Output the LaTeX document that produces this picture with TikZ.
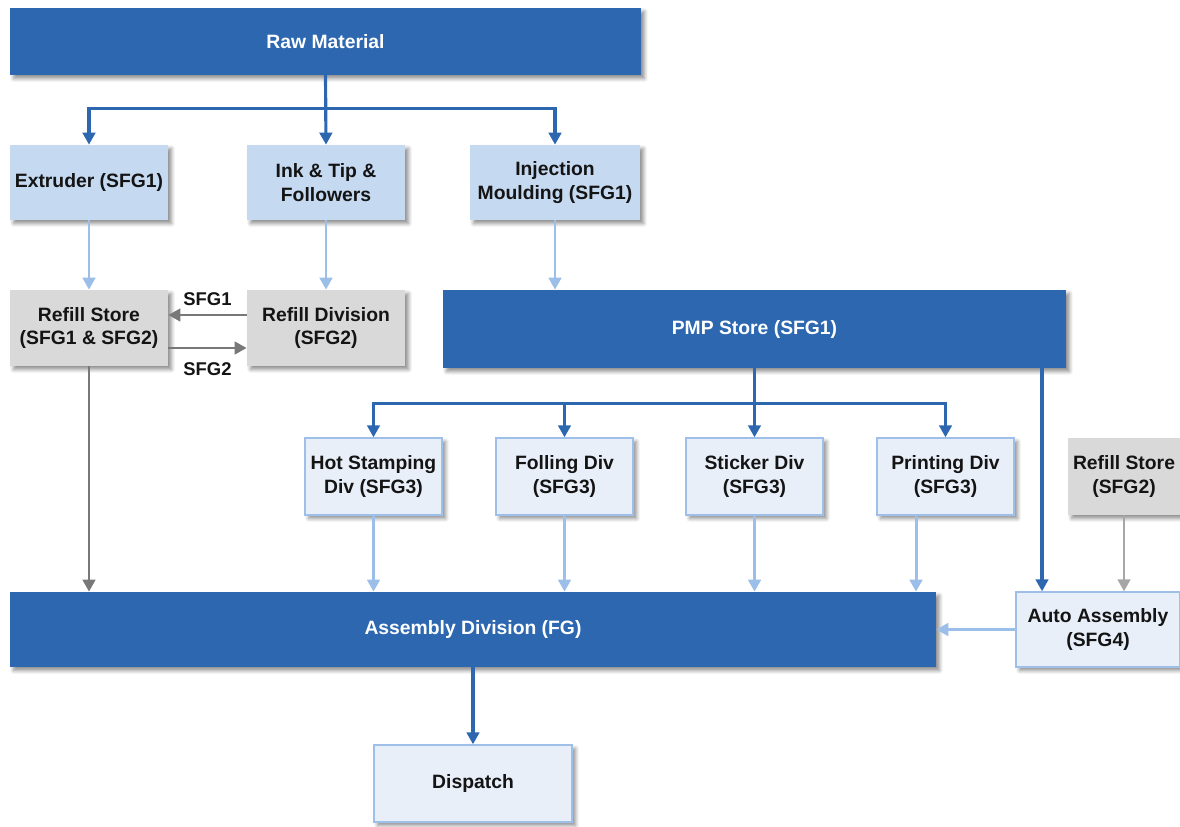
\documentclass[tikz,border=0pt]{standalone}
\usepackage{fontspec}
\setmainfont{Liberation Sans}
\usetikzlibrary{arrows.meta,positioning,shadows.blur}
\definecolor{navy}{RGB}{44,103,176}
\definecolor{sky}{RGB}{197,217,241}
\definecolor{mist}{RGB}{233,239,249}
\definecolor{mistline}{RGB}{157,191,232}
\definecolor{stone}{RGB}{217,217,217}
\definecolor{pale}{RGB}{155,191,232}
\definecolor{slate}{RGB}{120,120,120}
\definecolor{ash}{RGB}{166,166,166}
\definecolor{ink}{RGB}{20,20,20}
\tikzset{
  >={Triangle[length=2.4mm,width=2.5mm]},
  blk/.style={inner sep=2pt,align=center,font=\fontsize{11}{13.6}\selectfont\bfseries,
    blur shadow={shadow xshift=0.7mm,shadow yshift=-0.7mm,shadow blur steps=6,shadow opacity=45}},
  darkbox/.style={blk,fill=navy,text=white},
  skybox/.style={blk,fill=sky,text=ink},
  mistbox/.style={blk,fill=mist,draw=mistline,thick,text=ink},
  greybox/.style={blk,fill=stone,text=ink},
  bus/.style={->,draw=navy,line width=1.8pt},
  feed/.style={->,draw=pale,line width=1.7pt},
  grey flow/.style={->,draw=#1,line width=1.6pt},
  grey flow/.default=slate,
  tag/.style={font=\fontsize{10.5}{12}\selectfont\bfseries,text=ink},
}
\begin{document}
\begin{tikzpicture}[x=0.02cm,y=-0.02cm]
  \useasboundingbox (0,0) rectangle (1180,826);
  % top row
  \node[darkbox,minimum width=12.62cm,minimum height=1.34cm] (raw) at (325.5,41.5) {Raw Material};
  \node[skybox,minimum width=3.16cm,minimum height=1.5cm] (extr) at (89,182.5) {Extruder (SFG1)};
  \node[skybox,minimum width=3.16cm,minimum height=1.5cm] (ink) at (326,182.5) {Ink \& Tip \&\\Followers};
  \node[skybox,minimum width=3.4cm,minimum height=1.5cm] (inj) at (555,182.5) {Injection\\Moulding (SFG1)};
  % stores
  \node[greybox,minimum width=3.16cm,minimum height=1.52cm] (rstore) at (89,328) {Refill Store\\(SFG1 \& SFG2)};
  \node[greybox,minimum width=3.16cm,minimum height=1.52cm] (rdiv) at (326,328) {Refill Division\\(SFG2)};
  \node[darkbox,minimum width=12.46cm,minimum height=1.56cm] (pmp) at (754.5,329) {PMP Store (SFG1)};
  % divisions
  \node[mistbox,minimum width=2.74cm,minimum height=1.54cm] (hot) at (373.5,476.5) {Hot Stamping\\Div (SFG3)};
  \node[mistbox,minimum width=2.74cm,minimum height=1.54cm] (foll) at (564.5,476.5) {Folling Div\\(SFG3)};
  \node[mistbox,minimum width=2.74cm,minimum height=1.54cm] (stick) at (754.5,476.5) {Sticker Div\\(SFG3)};
  \node[mistbox,minimum width=2.74cm,minimum height=1.54cm] (print) at (945.5,476.5) {Printing Div\\(SFG3)};
  \node[greybox,minimum width=2.24cm,minimum height=1.54cm] (rstore2) at (1124,476.5) {Refill Store\\(SFG2)};
  % assembly
  \node[darkbox,minimum width=18.52cm,minimum height=1.5cm] (asm) at (473,629.5) {Assembly Division (FG)};
  \node[mistbox,minimum width=3.28cm,minimum height=1.5cm] (auto) at (1098,629.5) {Auto Assembly\\(SFG4)};
  \node[mistbox,minimum width=3.96cm,minimum height=1.54cm] (disp) at (473,783.5) {Dispatch};

  \draw[bus] (raw.south) -- ++(0,33) -| (extr.north);
  \draw[bus] (raw.south) -- (ink.north);
  \draw[bus] (raw.south) -- ++(0,33) -| (inj.north);
  \draw[feed] (extr) -- (rstore);
  \draw[feed] (ink) -- (rdiv);
  \draw[feed] (inj.south) -- (inj.south |- pmp.north);

  \draw[grey flow] ([yshift=0.26cm]rdiv.west) -- node[tag,above=1pt] {SFG1} ([yshift=0.26cm]rstore.east);
  \draw[grey flow] ([yshift=-0.4cm]rstore.east) -- node[tag,below=4pt] {SFG2} ([yshift=-0.4cm]rdiv.west);
  \draw[grey flow] (rstore.south) -- (rstore.south |- asm.north);

  \draw[bus] (pmp.south) -- ++(0,35) -| (hot.north);
  \draw[bus] (pmp.south) -- ++(0,35) -| (foll.north);
  \draw[bus] (pmp.south) -- (stick.north);
  \draw[bus] (pmp.south) -- ++(0,35) -| (print.north);
  \coordinate (autoin) at ([xshift=-1.12cm]auto.north);
  \draw[bus] (autoin |- pmp.south) -- (autoin);

  \foreach \d in {hot,foll,stick}
    \draw[feed] (\d.south) -- (\d.south |- asm.north);
  \coordinate (prout) at ([xshift=-0.59cm]print.south);
  \draw[feed] (prout) -- (prout |- asm.north);
  \draw[grey flow=ash] (rstore2.south) -- (rstore2.south |- auto.north);
  \draw[feed] (auto) -- (asm.east |- auto);
  \draw[bus] (asm) -- (disp);
\end{tikzpicture}
\end{document}
